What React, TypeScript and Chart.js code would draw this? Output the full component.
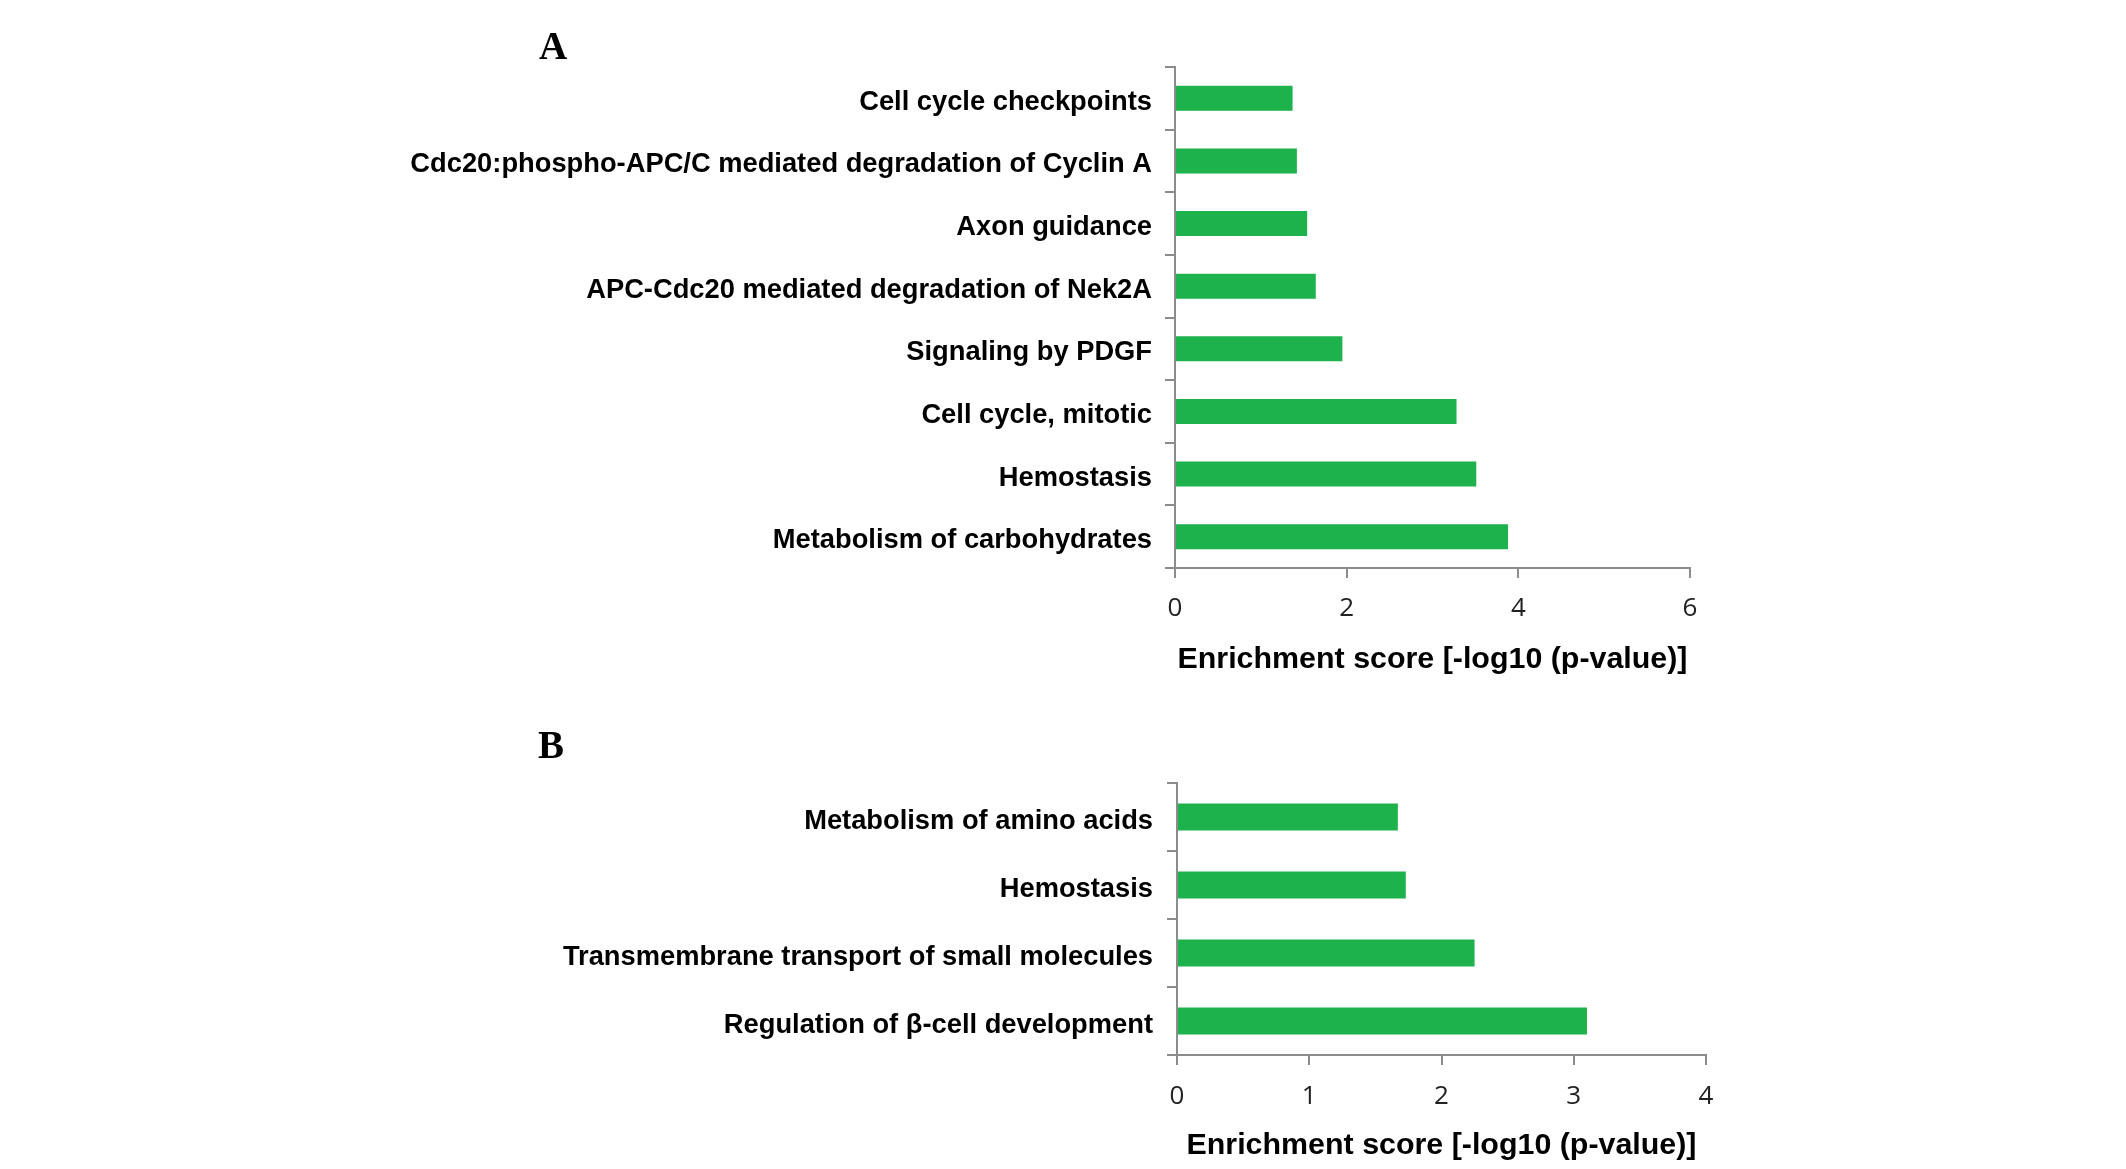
import React, { useEffect, useRef } from "react";
import { Chart, registerables } from "chart.js";

Chart.register(...registerables);

const categoriesA = [
  "Cell cycle checkpoints",
  "Cdc20:phospho-APC/C mediated degradation of Cyclin A",
  "Axon guidance",
  "APC-Cdc20 mediated degradation of Nek2A",
  "Signaling by PDGF",
  "Cell cycle, mitotic",
  "Hemostasis",
  "Metabolism of carbohydrates",
];
const valuesA = [1.37, 1.42, 1.54, 1.64, 1.95, 3.28, 3.51, 3.88];

const categoriesB = [
  "Metabolism of amino acids",
  "Hemostasis",
  "Transmembrane transport of small molecules",
  "Regulation of β-cell development",
];
const valuesB = [1.67, 1.73, 2.25, 3.1];

const axisTitle = "Enrichment score [-log10 (p-value)]";
const xMaxA = 6;
const xStepA = 2;
const xMaxB = 4;
const xStepB = 1;

const GREEN = "#1db24b";
const AXIS = "#8c8c8c";

type Layout = {
  width: number;
  height: number;
  left: number;
  right: number;
  top: number;
  bottom: number;
  tickPad: number;
  titlePadBottom: number;
  yPad: number;
};

function makeConfig(
  labels: string[],
  values: number[],
  xMax: number,
  step: number,
  L: Layout
): any {
  return {
    type: "bar",
    data: {
      labels,
      datasets: [
        {
          data: values,
          backgroundColor: GREEN,
          borderWidth: 0,
          categoryPercentage: 1,
          barPercentage: 0.4,
        },
      ],
    },
    options: {
      indexAxis: "y",
      animation: false,
      responsive: false,
      devicePixelRatio: 1,
      layout: {
        padding: { left: 0, right: L.width - L.right, top: L.top, bottom: 0 },
      },
      plugins: {
        legend: { display: false },
        tooltip: { enabled: false },
        title: { display: false },
      },
      scales: {
        y: {
          type: "category",
          offset: true,
          afterFit: (s: any) => {
            s.width = L.left;
          },
          grid: {
            offset: true,
            drawOnChartArea: false,
            drawTicks: true,
            tickLength: 10,
            color: AXIS,
            lineWidth: 2,
          },
          border: { display: true, color: AXIS, width: 2 },
          ticks: {
            color: "#000",
            padding: L.yPad,
            labelOffset: 4,
            font: { family: "'Liberation Sans', Arial, sans-serif", weight: "bold", size: 27.3 },
          },
        },
        x: {
          type: "linear",
          min: 0,
          max: xMax,
          afterFit: (s: any) => {
            s.height = L.height - L.bottom;
          },
          grid: {
            drawOnChartArea: false,
            drawTicks: true,
            tickLength: 10,
            color: AXIS,
            lineWidth: 2,
          },
          border: { display: true, color: AXIS, width: 2 },
          ticks: {
            stepSize: step,
            color: "#222",
            padding: L.tickPad,
            font: { family: "'Open Sans', sans-serif", size: 26 },
          },
          title: {
            display: true,
            text: axisTitle,
            color: "#000",
            padding: { top: 0, bottom: L.titlePadBottom },
            font: { family: "'Liberation Sans', Arial, sans-serif", weight: "bold", size: 30.4, lineHeight: 1.2 },
          },
        },
      },
    },
  };
}

const layoutA: Layout = {
  width: 2126,
  height: 720,
  left: 1175,
  right: 1690,
  top: 67,
  bottom: 568,
  tickPad: 15.4,
  titlePadBottom: 41.8,
  yPad: 13,
};

const layoutB: Layout = {
  width: 2126,
  height: 449,
  left: 1177,
  right: 1706,
  top: 63,
  bottom: 335,
  tickPad: 16.4,
  titlePadBottom: 4.8,
  yPad: 14,
};

function BarPanel(props: {
  labels: string[];
  values: number[];
  xMax: number;
  step: number;
  L: Layout;
  top: number;
}) {
  const ref = useRef<HTMLCanvasElement | null>(null);
  useEffect(() => {
    if (!ref.current) return;
    const chart = new Chart(
      ref.current,
      makeConfig(props.labels, props.values, props.xMax, props.step, props.L)
    );
    return () => chart.destroy();
  }, []);
  return (
    <canvas
      ref={ref}
      width={props.L.width}
      height={props.L.height}
      style={{
        position: "absolute",
        left: 0,
        top: props.top,
        width: props.L.width,
        height: props.L.height,
      }}
    />
  );
}

const letterStyle: React.CSSProperties = {
  position: "absolute",
  fontFamily: "'Liberation Serif', 'Times New Roman', serif",
  fontWeight: "bold",
  fontSize: 39,
  lineHeight: 1,
  transform: "translate(-50%, -50%)",
  color: "#000",
};

export default function App() {
  useEffect(() => {
    document.body.style.margin = "0";
    document.body.style.overflow = "hidden";
    document.body.style.background = "#fff";
  }, []);
  return (
    <div
      style={{
        position: "relative",
        width: 2126,
        height: 1169,
        background: "#fff",
        overflow: "hidden",
      }}
    >
      <BarPanel labels={categoriesA} values={valuesA} xMax={xMaxA} step={xStepA} L={layoutA} top={0} />
      <BarPanel labels={categoriesB} values={valuesB} xMax={xMaxB} step={xStepB} L={layoutB} top={720} />
      <div style={{ ...letterStyle, left: 553, top: 45 }}>A</div>
      <div style={{ ...letterStyle, left: 551, top: 744 }}>B</div>
    </div>
  );
}
